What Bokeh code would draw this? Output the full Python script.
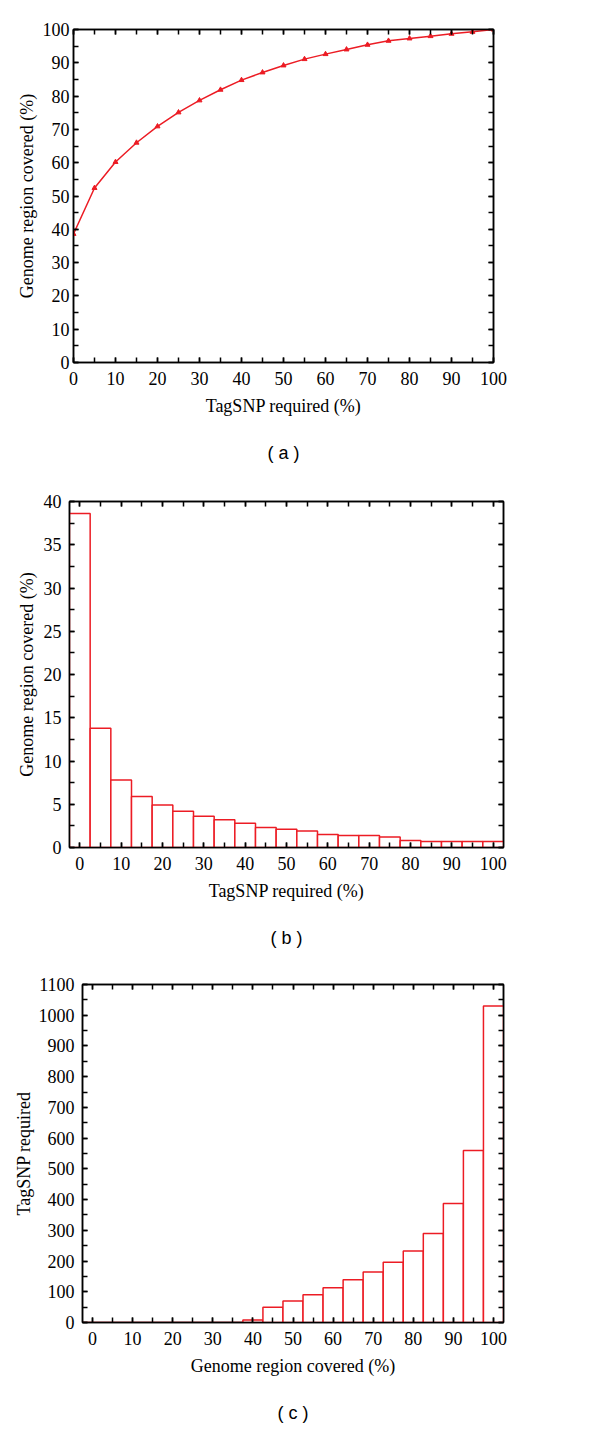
from bokeh.plotting import figure
from bokeh.models import (Range1d, LinearAxis, SingleIntervalTicker, FixedTicker,
                          CustomJSTickFormatter)
from bokeh.embed import file_html
from bokeh.resources import INLINE

# ---------------- data ----------------
tagsnp_pct = [0, 5, 10, 15, 20, 25, 30, 35, 40, 45, 50, 55, 60, 65, 70, 75, 80, 85, 90, 95, 100]
coverage_cum = [38.6, 52.4, 60.2, 66.0, 70.9, 75.1, 78.7, 81.9, 84.8, 87.1, 89.2,
                91.1, 92.6, 94.0, 95.4, 96.6, 97.3, 98.0, 98.7, 99.3, 100.0]
coverage_bin = [38.6, 13.8, 7.8, 5.9, 4.9, 4.2, 3.6, 3.2, 2.8, 2.3, 2.1,
                1.9, 1.5, 1.4, 1.4, 1.2, 0.8, 0.7, 0.7, 0.7, 0.7]
genome_pct = [0, 5, 10, 15, 20, 25, 30, 35, 40, 45, 50, 55, 60, 65, 70, 75, 80, 85, 90, 95, 100]
tagsnp_count = [0, 0, 0, 0, 0, 0, 0, 0, 8, 50, 70, 90, 113, 139, 164, 196, 233, 290, 387, 560, 1030]

panel_labels = ["( a )", "( b )", "( c )"]

RED = "#ec1c24"
SERIF = "Liberation Serif"
SANS = "Liberation Sans"
BIN_W = 5


def style_axis(ax, standoff):
    ax.axis_line_color = "black"
    ax.axis_line_width = 1.5
    ax.major_tick_line_color = "black"
    ax.major_tick_line_width = 1.5
    ax.minor_tick_line_color = "black"
    ax.minor_tick_line_width = 1.5
    ax.major_tick_in = 5
    ax.major_tick_out = 0
    ax.minor_tick_in = 5
    ax.minor_tick_out = 0
    ax.major_label_text_font = SERIF
    ax.major_label_text_font_size = "18px"
    ax.major_label_text_color = "black"
    ax.major_label_standoff = standoff
    ax.axis_label_text_font = SERIF
    ax.axis_label_text_font_size = "18px"
    ax.axis_label_text_font_style = "normal"
    ax.axis_label_text_color = "black"


def make_fig(height, borders, x_range, y_range, xint, yint, xlabel, ylabel,
             ytick_standoff, ylabel_standoff, tag, tag_standoff):
    left, right, top, bottom = borders
    p = figure(width=592, height=height, output_backend="svg", toolbar_location=None,
               x_range=Range1d(*x_range), y_range=Range1d(*y_range),
               x_axis_type=None, y_axis_type=None,
               min_border_left=left, min_border_right=right,
               min_border_top=top, min_border_bottom=bottom)
    p.xgrid.visible = False
    p.ygrid.visible = False
    p.outline_line_color = "black"
    p.outline_line_width = 1.5
    p.background_fill_color = "white"
    p.border_fill_color = "white"

    xt = SingleIntervalTicker(interval=xint, num_minor_ticks=2)
    yt = SingleIntervalTicker(interval=yint, num_minor_ticks=2)

    xb = LinearAxis(ticker=xt, axis_label=xlabel)
    style_axis(xb, 9)
    xb.axis_label_standoff = 8
    p.add_layout(xb, "below")

    # panel tag "( a )" drawn as the label of a bare, tick-less axis below
    tag_ax = LinearAxis(ticker=FixedTicker(ticks=[]), axis_label=tag)
    tag_ax.axis_line_color = None
    tag_ax.major_tick_line_color = None
    tag_ax.minor_tick_line_color = None
    tag_ax.major_label_standoff = 0
    tag_ax.axis_label_standoff = tag_standoff
    tag_ax.axis_label_text_font = SANS
    tag_ax.axis_label_text_font_size = "18px"
    tag_ax.axis_label_text_font_style = "normal"
    tag_ax.axis_label_text_color = "black"
    p.add_layout(tag_ax, "below")

    yl = LinearAxis(ticker=yt, axis_label=ylabel)
    style_axis(yl, ytick_standoff)
    yl.axis_label_standoff = ylabel_standoff
    p.add_layout(yl, "left")

    blank = CustomJSTickFormatter(code="return ''")
    xa = LinearAxis(ticker=xt, formatter=blank)
    style_axis(xa, 0)
    p.add_layout(xa, "above")
    yr = LinearAxis(ticker=yt, formatter=blank)
    style_axis(yr, 0)
    p.add_layout(yr, "right")
    return p


# ---------------- panel a ----------------
pa = make_fig(470, (73, 99, 29, 108), (0, 100), (0, 100), 10, 10,
              "TagSNP required (%)", "Genome region covered (%)", 4, 3,
              panel_labels[0], 24)
pa.line(tagsnp_pct, coverage_cum, line_color=RED, line_width=1.5)
pa.scatter(tagsnp_pct, coverage_cum, marker="triangle", size=5,
           fill_color=RED, line_color=RED)

# ---------------- panel b ----------------
pb = make_fig(480, (69, 89, 31, 102), (-2.5, 102.5), (0, 40), 10, 5,
              "TagSNP required (%)", "Genome region covered (%)", 8, 4,
              panel_labels[1], 24)
pb.vbar(x=tagsnp_pct, top=coverage_bin, width=BIN_W, bottom=0,
        fill_color="white", line_color=RED, line_width=1.5)

# ---------------- panel c ----------------
pc = make_fig(480, (82, 89, 34, 108), (-2.5, 102.5), (0, 1100), 10, 100,
              "Genome region covered (%)", "TagSNP required", 8, 2,
              panel_labels[2], 24)
pc.vbar(x=genome_pct, top=tagsnp_count, width=BIN_W, bottom=0,
        fill_color="white", line_color=RED, line_width=1.5)

open("out.html", "w").write(file_html([pa, pb, pc], INLINE))
